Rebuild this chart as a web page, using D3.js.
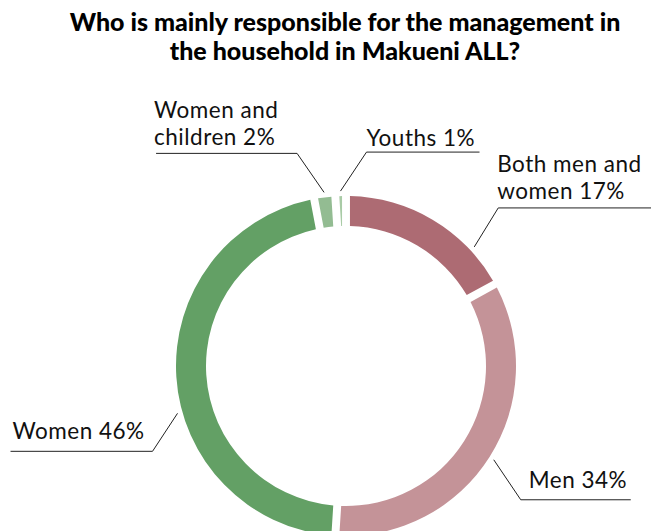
<!DOCTYPE html>
<html>
<head>
<meta charset="utf-8">
<script src="https://cdn.jsdelivr.net/npm/d3@7/dist/d3.min.js"></script>
<style>
  html, body { margin: 0; padding: 0; background: #fff; }
  svg { display: block; }
  .title { font-family: Lato, "Noto Sans", sans-serif; font-weight: 900; font-size: 25px; fill: #000; }
  .lbl { font-family: Lato, "Noto Sans", sans-serif; font-weight: 400; font-size: 22.5px; letter-spacing: 0.5px; fill: #111; }
  .leader { fill: none; stroke: #222; stroke-width: 1; }
</style>
</head>
<body>
<svg id="chart" width="651" height="531"></svg>
<script>
// Share of answers, clockwise from 12 o'clock
const categories = ["Both men and women", "Men", "Women", "Women and children", "Youths"];
const values = [17, 34, 46, 2, 1];
const labelLines = [
  ["Both men and", "women 17%"],
  ["Men 34%"],
  ["Women 46%"],
  ["Women and", "children 2%"],
  ["Youths 1%"]
];
const colors = ["#ad6b73", "#c49398", "#63a065", "#93bc92", "#a9cba6"];
const titleLines = ["Who is mainly responsible for the management in", "the household in Makueni ALL?"];

const W = 651, H = 531;
const cx = 346, cy = 366;
const outerR = 170, innerR = 140;

const svg = d3.select("#chart");

svg.selectAll("text.title")
  .data(titleLines)
  .join("text")
  .attr("class", "title")
  .attr("x", 345)
  .attr("y", (d, i) => 31 + i * 29)
  .attr("text-anchor", "middle")
  .text(d => d);

const data = categories.map((c, i) => ({ cat: c, value: values[i], lines: labelLines[i], color: colors[i] }));

const pie = d3.pie().value(d => d.value).sort(null);
const arcs = pie(data);

const arc = d3.arc().innerRadius(innerR).outerRadius(outerR).padAngle(0.036);

const g = svg.append("g").attr("transform", `translate(${cx},${cy})`);
g.selectAll("path")
  .data(arcs)
  .join("path")
  .attr("d", arc)
  .attr("fill", d => d.data.color);

// Leader placement: t = where along the slice the line starts,
// elbow = offset from that start, run = length of horizontal rule,
// tx/ty = offset of the last text line's baseline from the elbow.
const layout = {
  "Both men and women": { t: 0.77,  elbow: [24, -39],  run: 160, dir: 1,  tx: -1,   ty: -9 },
  "Men":                { t: 0.5,   elbow: [27, 40],   run: 110, dir: 1,  tx: 8,    ty: -12 },
  "Women":              { t: 0.427, elbow: [-25, 38],  run: 142, dir: -1, tx: -140, ty: -12 },
  "Women and children": { t: 0.5,   elbow: [-27, -39], run: 141, dir: -1, tx: -143, ty: -8 },
  "Youths":             { t: 0.5,   elbow: [26, -39],  run: 113, dir: 1,  tx: 0,    ty: -6 }
};

const lineR = outerR + 5;
const lh = 27;
arcs.forEach(a => {
  const L = layout[a.data.cat];
  const ang = a.startAngle + L.t * (a.endAngle - a.startAngle);
  const x0 = cx + lineR * Math.sin(ang);
  const y0 = cy - lineR * Math.cos(ang);
  const x1 = x0 + L.elbow[0], y1 = y0 + L.elbow[1];
  const x2 = x1 + L.dir * L.run;
  svg.append("path")
    .attr("class", "leader")
    .attr("d", d3.line()([[x0, y0], [x1, y1], [x2, y1]]));
  const n = a.data.lines.length;
  const t = svg.append("text")
    .attr("class", "lbl")
    .attr("x", x1 + L.tx)
    .attr("y", y1 + L.ty - (n - 1) * lh);
  a.data.lines.forEach((s, i) => {
    t.append("tspan")
      .attr("x", x1 + L.tx)
      .attr("dy", i === 0 ? 0 : lh)
      .text(s);
  });
});
</script>
</body>
</html>
